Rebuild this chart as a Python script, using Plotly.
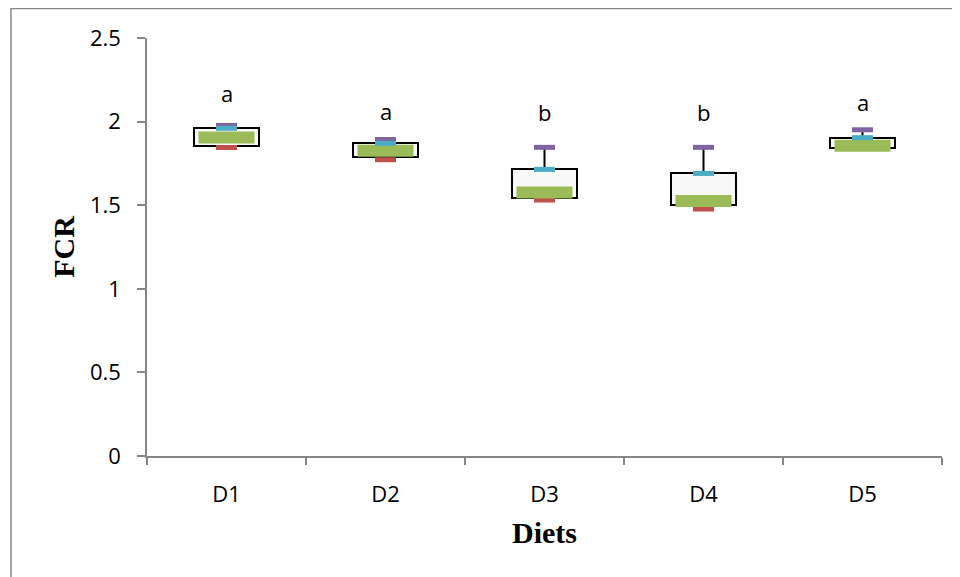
import plotly.graph_objects as go

diets = ["D1", "D2", "D3", "D4", "D5"]
fcr_max = [1.977, 1.893, 1.846, 1.846, 1.951]      # purple dash
fcr_q3 = [1.960, 1.870, 1.714, 1.690, 1.904]       # cyan dash / box top
fcr_mid = [1.905, 1.826, 1.576, 1.525, 1.855]      # green bar
fcr_q1 = [1.854, 1.786, 1.545, 1.501, 1.840]       # box bottom
fcr_min = [1.845, 1.772, 1.531, 1.477, 1.840]      # red dash
sig_letters = ["a", "a", "b", "b", "a"]
sig_y = [2.172, 2.062, 2.06, 2.06, 2.117]

FONT_SANS = "Open Sans, Noto Sans, sans-serif"
FONT_SERIF = "Liberation Serif, Times New Roman, serif"
AXIS_GREY = "#868686"

# page body has an 8px margin; plot area sits at x 147-942, y 38-456 on the page
ML, MT, MR, MB = 139, 30, 18, 121
W, H = 952, 569
PW, PH = W - ML - MR, H - MT - MB

fig = go.Figure()

# boxes (q1 -> q3)
fig.add_trace(go.Bar(
    x=diets, y=[h - l for h, l in zip(fcr_q3, fcr_q1)], base=fcr_q1,
    width=0.41, marker=dict(color="#F8F8F8", line=dict(color="black", width=2)),
    showlegend=False, hoverinfo="skip"))

# whiskers
wx, wy = [], []
for d, lo, q1, q3, hi in zip(diets, fcr_min, fcr_q1, fcr_q3, fcr_max):
    wx += [d, d, None, d, d, None]
    wy += [q3, hi, None, lo, q1, None]
fig.add_trace(go.Scatter(x=wx, y=wy, mode="lines", line=dict(color="black", width=2),
                         showlegend=False, hoverinfo="skip"))

def dash(y, color, size, width):
    fig.add_trace(go.Scatter(
        x=diets, y=y, mode="markers", showlegend=False,
        marker=dict(symbol="line-ew", size=size, color=color,
                    line=dict(color=color, width=width))))

dash(fcr_min, "#C0504D", 15, 5)
dash(fcr_mid, "#9BBB59", 40, 12)
dash(fcr_max, "#8064A2", 15, 5)
dash(fcr_q3, "#4BACC6", 15, 5)

for d, t, y in zip(diets, sig_letters, sig_y):
    fig.add_annotation(x=d, y=y, text=t, showarrow=False,
                       font=dict(family=FONT_SANS, size=22, color="black"))

# outer chart border (top and left visible)
fig.add_shape(type="rect", xref="paper", yref="paper",
              x0=(3 - ML) / PW, x1=1.1, y0=-0.4, y1=(PH + MT - 0.5) / PH,
              line=dict(color=AXIS_GREY, width=1.5), fillcolor="rgba(0,0,0,0)", layer="below")

fig.update_layout(
    width=W, height=H,
    margin=dict(l=ML, r=MR, t=MT, b=MB),
    plot_bgcolor="white", paper_bgcolor="white",
    bargap=0,
    font=dict(family=FONT_SANS, size=22, color="black"),
    xaxis=dict(type="category", range=[-0.5, 4.5], showline=True, linecolor=AXIS_GREY,
               linewidth=1.5, ticks="outside", tickson="boundaries", ticklen=7,
               tickcolor=AXIS_GREY, tickwidth=1.5, showgrid=False, ticklabelstandoff=18,
               tickfont=dict(family=FONT_SANS, size=22),
               title=dict(text="<b>Diets</b>", standoff=15,
                          font=dict(family=FONT_SERIF, size=30, color="black"))),
    yaxis=dict(range=[0, 2.5], dtick=0.5, showline=True, linecolor=AXIS_GREY, linewidth=1.5,
               ticks="outside", ticklen=8, tickcolor=AXIS_GREY, tickwidth=1.5,
               showgrid=False, zeroline=False, ticklabelstandoff=12,
               tickfont=dict(family=FONT_SANS, size=22),
               title=dict(text="<b>FCR</b>", standoff=6,
                          font=dict(family=FONT_SERIF, size=30, color="black"))),
)

fig.write_html("out.html")
